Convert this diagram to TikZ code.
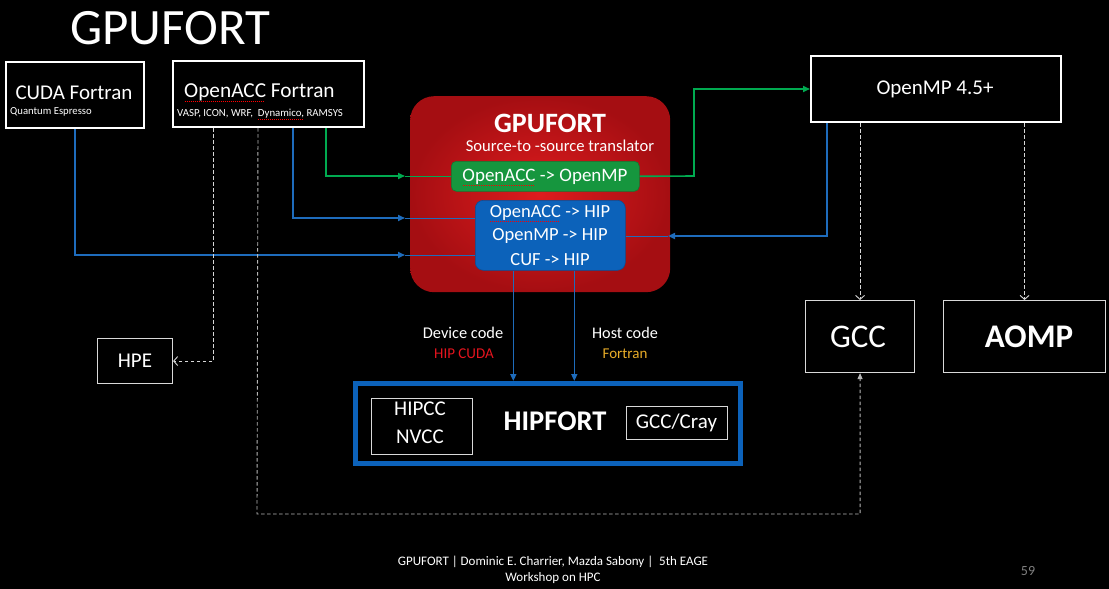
\documentclass[tikz,border=0pt]{standalone}
\usepackage{fontspec}
\setmainfont{Carlito}
\usetikzlibrary{arrows.meta}
\definecolor{lineblue}{RGB}{30,108,188}
\definecolor{boxblue}{RGB}{12,98,186}
\definecolor{linegreen}{RGB}{0,170,80}
\definecolor{boxgreen}{RGB}{22,150,62}
\definecolor{redin}{RGB}{222,28,30}
\definecolor{redout}{RGB}{165,14,18}
\definecolor{hipred}{RGB}{230,20,30}
\definecolor{fortranyellow}{RGB}{232,172,40}
\definecolor{dashgray}{RGB}{215,215,215}
\newsavebox\sqbox
\newcommand{\squig}[1]{\sbox\sqbox{#1}\rlap{\textcolor{red}{\raisebox{-0.22em}[0pt][0pt]{\hbox to \wd\sqbox{\leaders\hbox to 2pt{\hss\rule{1pt}{0.7pt}\hss}\hfill}}}}\usebox\sqbox}
\tikzset{
  whitebox/.style={draw=white, line width=2pt, fill=black, inner sep=0pt, anchor=north west},
  thinbox/.style={draw=white!85!black, line width=1.1pt, fill=black, inner sep=0pt, anchor=north west},
  txt/.style={text=white, inner sep=0pt},
  bluearr/.style={draw=lineblue, line width=1.6pt, -{Triangle[length=7pt,width=6pt]}},
  greenarr/.style={draw=linegreen, line width=1.6pt, -{Triangle[length=7pt,width=6pt]}},
  thinblue/.style={draw=lineblue, line width=0.8pt},
  thingreen/.style={draw=linegreen, line width=0.8pt},
  dsh/.style={draw=dashgray, line width=0.9pt, dash pattern=on 3.5pt off 2.5pt, -{Straight Barb[length=4pt,width=9pt]}},
}
\begin{document}
\begin{tikzpicture}[x=1pt,y=-1pt]
\fill[black] (0,0) rectangle (1109,589);
\useasboundingbox (0,0) rectangle (1109,589);

% title
\node[txt, font=\fontsize{51}{51}\selectfont, anchor=west] (title) at (70,28) {GPUFORT};

% source boxes
\node[whitebox, minimum width=138pt, minimum height=66pt] (cuda) at (5,61) {};
\node[txt, font=\fontsize{21}{21}\selectfont] (cudat) at (74,93) {CUDA Fortran};
\node[txt, font=\fontsize{10.7}{11}\selectfont, anchor=west] (cudas) at (10,112) {Quantum Espresso};

\node[whitebox, minimum width=191pt, minimum height=66pt] (acc) at (172,60) {};
\node[txt, font=\fontsize{21.3}{21}\selectfont, anchor=west] (acct) at (184,92) {\squig{OpenACC} Fortran};
\node[txt, font=\fontsize{10.8}{11}\selectfont, anchor=west] (accs) at (177,114) {VASP, ICON, WRF,\ \ \squig{Dynamico,} RAMSYS};

% GPUFORT red box
\node[anchor=north west, minimum width=260pt, minimum height=196pt, rounded corners=24pt,
      shade, shading=radial, inner color=redin, outer color=redout, inner sep=0pt] (red) at (410,96) {};
\node[txt, font=\fontsize{28}{28}\bfseries\selectfont] (redt) at (550,123) {GPUFORT};
\node[txt, font=\fontsize{16.6}{16.6}\selectfont] (reds) at (560,146) {Source-to -source translator};

\node[anchor=north west, fill=boxgreen, draw=boxgreen!80!black, line width=0.6pt, rounded corners=5pt,
      minimum width=188pt, minimum height=30pt, inner sep=0pt] (gbox) at (451,161) {};
\node[txt, font=\fontsize{19}{19}\selectfont] (gboxt) at (545,177) {\squig{OpenACC} -> OpenMP};

\node[anchor=north west, fill=boxblue, draw=boxblue!80!black, line width=0.6pt, rounded corners=8pt,
      minimum width=150pt, minimum height=70pt, inner sep=0pt] (bbox) at (475,200) {};
\node[txt, font=\fontsize{18.5}{18.5}\selectfont] (b1) at (550,213) {\squig{OpenACC} -> HIP};
\node[txt, font=\fontsize{18.5}{18.5}\selectfont] (b2) at (550,236) {OpenMP -> HIP};
\node[txt, font=\fontsize{18.5}{18.5}\selectfont] (b3) at (550,260) {CUF -> HIP};

% OpenMP box
\node[whitebox, minimum width=250pt, minimum height=66pt] (omp) at (810,55) {};
\node[txt, font=\fontsize{21}{21}\selectfont] (ompt) at (935,89) {OpenMP 4.5+};

% GCC / AOMP
\node[thinbox, minimum width=109pt, minimum height=72pt] (gcc) at (805,300) {};
\node[txt, font=\fontsize{33}{33}\selectfont] (gcct) at (858,337) {GCC};
\node[thinbox, minimum width=162pt, minimum height=72pt] (aomp) at (943,300) {};
\node[txt, font=\fontsize{33}{33}\bfseries\selectfont] (aompt) at (1029,337) {AOMP};

% HPE
\node[thinbox, minimum width=75pt, minimum height=45pt] (hpe) at (97,338) {};
\node[txt, font=\fontsize{21}{21}\selectfont] (hpet) at (135,361) {HPE};

% HIPFORT
\node[anchor=north west, draw=boxblue, line width=5pt, fill=black, minimum width=385pt, minimum height=80pt, inner sep=0pt] (hipfort) at (353,381) {};
\node[thinbox, minimum width=101pt, minimum height=56pt] (hipcc) at (371,398) {};
\node[txt, font=\fontsize{21}{21}\selectfont, align=center] (hipcct) at (420,423) {HIPCC\\[7pt]NVCC};
\node[txt, font=\fontsize{28.5}{28.5}\bfseries\selectfont] (hipfortt) at (555,421) {HIPFORT};
\node[thinbox, minimum width=101pt, minimum height=33pt] (cray) at (626,406) {};
\node[txt, font=\fontsize{21}{21}\selectfont] (crayt) at (676.5,423) {GCC/Cray};

% labels of code paths
\node[txt, font=\fontsize{16.4}{16.4}\selectfont] (devt) at (463,333) {Device code};
\node[txt, font=\fontsize{15}{15}\selectfont, text=hipred] (devs) at (464,354) {HIP CUDA};
\node[txt, font=\fontsize{16.2}{16.2}\selectfont] (hostt) at (625,333) {Host code};
\node[txt, font=\fontsize{15}{15}\selectfont, text=fortranyellow] (hosts) at (625,354) {Fortran};

% footer
\node[txt, font=\fontsize{13}{16}\selectfont, align=center] (foot) at (553,570) {GPUFORT | Dominic E. Charrier, Mazda Sabony |\ \ 5th EAGE\\Workshop on HPC};
\node[font=\fontsize{14}{14}\selectfont, text=gray, inner sep=0pt] (page) at (1028,571) {59};

% connectors into GPUFORT
\coordinate (inC) at (405,255);
\draw[bluearr] (cuda.south) |- (inC);
\draw[thinblue] (inC) -- (bbox.west |- inC);

\coordinate (inA) at (405,218);
\draw[bluearr] ([xshift=24.5pt]acc.south) |- (inA);
\draw[thinblue] (inA) -- (bbox.west |- inA);

\coordinate (inG) at (405,176);
\draw[greenarr] ([xshift=57.5pt]acc.south) |- (inG);
\draw[thingreen] (inG) -- (gbox.west |- inG);

% green out to OpenMP
\coordinate (gturn) at (694,176);
\draw[greenarr] (gbox.east) -- (gturn) |- (omp.west);

% OpenMP to HIP
\coordinate (inO) at (668,236);
\draw[bluearr] ([xshift=-109pt]omp.south) |- (inO);
\draw[thinblue] (inO) -- (bbox.east |- inO);

% down to HIPFORT
\draw[bluearr] ([xshift=-37pt]bbox.south) -- ([xshift=-37pt]bbox.south |- hipfort.north);
\draw[bluearr] ([xshift=24pt]bbox.south) -- ([xshift=24pt]bbox.south |- hipfort.north);

% dashed connectors
\draw[dsh] (gcc.north |- omp.south) -- (gcc.north);
\draw[dsh] (aomp.north |- omp.south) -- (aomp.north);
\draw[dsh] ([xshift=-55.5pt]acc.south) |- (hpe.east);
\coordinate (dl) at (257,514);
\draw[dsh, draw=dashgray!85!black, -{Triangle[length=6pt,width=5pt]}] ([xshift=-10.5pt]acc.south) -- (dl) -| (gcc.south);
\end{tikzpicture}
\end{document}
